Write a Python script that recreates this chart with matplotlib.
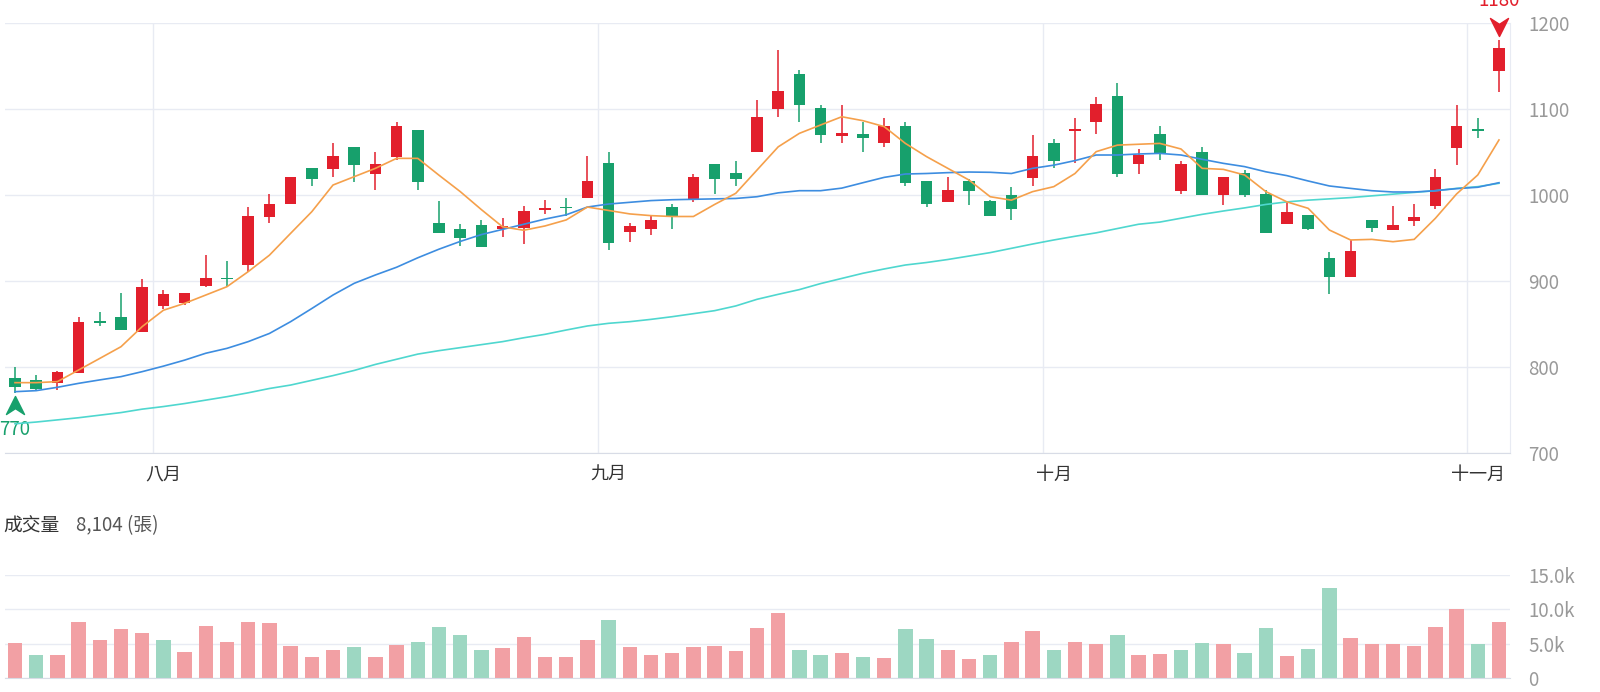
import numpy as np
import matplotlib
matplotlib.use('Agg')
import matplotlib.pyplot as plt
from matplotlib.path import Path
from matplotlib.transforms import offset_copy

plt.rcParams['font.family'] = ['Noto Sans CJK TC', 'DejaVu Sans']

# daily OHLC (price)
opens = [787.6, 785, 781, 793, 853.5, 858.5, 841, 871, 875, 894.6,
         904, 919, 975, 989, 1031, 1029.8, 1056, 1025, 1044.6, 1075.6,
         967.8, 961, 965, 961, 962, 982.6, 986.4, 997, 1036.8, 957,
         961, 985.6, 994, 1036, 1026, 1049.6, 1099.6, 1140.7, 1100.8, 1069,
         1070.5, 1060, 1080.6, 1016.7, 992, 1016.7, 993.4, 1000, 1019.4, 1060.9,
         1074.4, 1085.3, 1115, 1035.7, 1070.5, 1005, 1050.4, 1000, 1026, 1001,
         965.9, 976.7, 927, 904.3, 971, 959.3, 970, 987.2, 1055, 1076.4,
         1144.6]
highs = [800, 790.7, 795, 858.5, 864, 885.7, 902, 889.5, 886.4, 930,
         923, 986, 1000.8, 1020.5, 1031, 1060, 1056, 1050, 1085, 1075.6,
         993, 966, 971, 972.9, 987, 994, 996, 1045, 1050, 967.8,
         976.7, 990, 1025, 1036, 1040, 1110, 1169, 1145.3, 1104.6, 1104.6,
         1085.3, 1090, 1084.5, 1016.7, 1020.5, 1019, 994, 1009.7, 1069.8, 1064.7,
         1090, 1114, 1129.8, 1054, 1080.2, 1040, 1055.4, 1020.5, 1029, 1005.8,
         992, 976.7, 934, 947.7, 971, 987.2, 990, 1029.8, 1104.6, 1090,
         1180]
lows = [770, 772.5, 773, 792.6, 847.7, 843, 841, 868, 872, 893.4,
        893, 911, 967, 989, 1010.5, 1021, 1015.5, 1006, 1040.7, 1006,
        955.4, 940.7, 940, 950.8, 943, 978, 975.6, 997, 936, 945.7,
        953.5, 961, 992, 1000.8, 1010.5, 1049.6, 1091, 1085, 1060, 1060,
        1050.4, 1055.4, 1010.5, 985.7, 992, 988.4, 975.6, 971, 1010.8, 1031,
        1037, 1070.5, 1021.3, 1025, 1040.7, 1001, 1000, 988.4, 998, 955.4,
        965.9, 959.3, 884.9, 904.3, 957.4, 959.3, 964, 983.3, 1035.3, 1066,
        1120]
closes = [777, 774, 794.6, 852.7, 851.5, 843, 893.4, 885, 886.4, 903,
          902, 976, 990, 1020.5, 1019, 1045.7, 1035, 1036, 1080.6, 1015.5,
          955.4, 949.6, 940, 963.6, 981.8, 984.6, 984.5, 1016, 943.8, 964,
          971, 974, 1021, 1019, 1019, 1091, 1121, 1104.7, 1069.8, 1071.7,
          1066, 1080.6, 1014.3, 989, 1005.8, 1005, 975.6, 983.7, 1045.7, 1039.5,
          1076.4, 1105.4, 1024.4, 1046.5, 1048.4, 1036, 1000, 1020.5, 1000, 956.2,
          979.8, 960, 904.3, 935.3, 962, 965, 974, 1020.5, 1080.6, 1074.8,
          1170.5]

# moving averages
ma5 = [781.8, 781.8, 783, 796.5, 810, 823.6, 847, 866, 874, 883.7,
       893.4, 910.9, 930, 955.4, 980.6, 1011.6, 1021.3, 1031, 1042.6, 1042.6,
       1023, 1004, 983, 963, 959, 964, 971, 986, 982, 978,
       976, 975, 975, 989, 1002, 1029, 1056, 1071.7, 1081.4, 1091,
       1086.4, 1079.5, 1060, 1044.6, 1031, 1017.4, 998, 994, 1003.9, 1009.7,
       1025, 1050.4, 1058, 1059, 1060, 1053.5, 1031, 1029.8, 1023.3, 1004,
       992, 984.5, 959.3, 947.7, 948.4, 945.7, 948.4, 972.9, 1001.2, 1023.3,
       1064]
ma20 = [771.3, 772.5, 776.4, 781, 785, 788.8, 794.6, 801, 808, 816,
        821.7, 829.5, 839, 852.7, 868, 883.7, 897.3, 907, 916, 927,
        937, 946, 954, 960, 966, 972, 977, 986, 989.5, 991.5,
        993.5, 994.5, 995, 995.5, 996, 998, 1002.5, 1005, 1005, 1008,
        1014.3, 1020.5, 1024.4, 1025, 1026, 1026.7, 1026.4, 1025, 1031, 1034.7,
        1040, 1046.5, 1046.5, 1047.7, 1048.4, 1046.5, 1041.5, 1036.8, 1033, 1027,
        1022.5, 1016.3, 1010.5, 1007.7, 1005, 1003.5, 1003.5, 1005, 1007.4, 1009,
        1014.3]
ma60 = [734, 736, 738.5, 741, 744, 747, 751, 754, 757.5, 761.5,
        765.5, 770, 775, 779, 784.5, 790, 796, 803, 809, 815,
        819, 822.5, 826, 829.5, 834, 838, 843, 847.7, 850.8, 852.7,
        855.4, 858.5, 862, 865.5, 871, 878.7, 884.5, 890, 897, 903,
        909, 914, 918.6, 921.5, 925, 929, 933, 938, 943, 947.7,
        952, 956, 961, 966, 968.5, 973, 977.5, 981.4, 985, 989,
        992, 994, 995.5, 997, 999, 1001, 1003, 1005, 1007.7, 1009.7,
        1013.6]

# volume (張) and its colour flag (1 = red, 0 = green)
volume = [5100, 3400, 3400, 8100, 5600, 7100, 6500, 5500, 3800, 7600,
          5300, 8200, 8000, 4600, 3100, 4100, 4500, 3000, 4800, 5300,
          7500, 6300, 4100, 4400, 5900, 3100, 3100, 5600, 8400, 4500,
          3400, 3600, 4500, 4600, 3900, 7300, 9400, 4100, 3300, 3700,
          3100, 2900, 7200, 5700, 4100, 2700, 3400, 5300, 6800, 4100,
          5200, 4900, 6300, 3300, 3500, 4100, 5100, 4900, 3700, 7300,
          3200, 4200, 13100, 5800, 4900, 4900, 4600, 7400, 10100, 4900,
          8104]
vol_up = [1, 0, 1, 1, 1, 1, 1, 0, 1, 1,
          1, 1, 1, 1, 1, 1, 0, 1, 1, 0,
          0, 0, 0, 1, 1, 1, 1, 1, 0, 1,
          1, 1, 1, 1, 1, 1, 1, 0, 0, 1,
          0, 1, 0, 0, 1, 1, 0, 1, 1, 0,
          1, 1, 0, 1, 1, 0, 0, 1, 0, 0,
          1, 0, 0, 1, 1, 1, 1, 1, 1, 0,
          1]

month_labels = ['八月', '九月', '十月', '十一月']
month_start = [7, 28, 49, 69]
price_ticks = [700, 800, 900, 1000, 1100, 1200]
vol_ticks = [0, 5000, 10000, 15000]
vol_tick_labels = ['0', '5.0k', '10.0k', '15.0k']

UP = '#e21f2c'
DOWN = '#17a06c'
VOL_UP = '#f2a0a4'
VOL_DOWN = '#9dd7c2'
GRID = '#e8ebf3'
AXIS = '#d8dce6'
LABEL = '#999999'

n = len(closes)
x = np.arange(n)
o = np.array(opens)
c = np.array(closes)
up = c >= o
colors = np.where(up, UP, DOWN)

W, H = 1600, 692
fig = plt.figure(figsize=(16, 6.92), dpi=100)
xlim = (-0.472, 70.52)

# ---- price panel
ax = fig.add_axes([5 / W, 1 - 453 / H, 1505 / W, 430 / H])
ax.set_xlim(*xlim)
ax.set_ylim(700, 1200)
for m in month_start:
    ax.axvline(m - 0.5, color=GRID, lw=1, zorder=0)
ax.set_yticks(price_ticks)
ax.grid(axis='y', color=GRID, lw=1, zorder=0)
ax.set_axisbelow(True)

ax.vlines(x, lows, highs, colors=colors, lw=1.1, zorder=2)
body = np.maximum(np.abs(c - o), 1.6)
ax.bar(x, body, bottom=np.minimum(o, c), width=0.55, color=colors, zorder=3)

ax.plot(x, ma60, color='#4fd7cf', lw=1.2, zorder=4)
ax.plot(x, ma20, color='#3d8de0', lw=1.2, zorder=4)
ax.plot(x, ma5, color='#f5a04b', lw=1.2, zorder=4)

for s in ['top', 'left']:
    ax.spines[s].set_visible(False)
ax.spines['bottom'].set_color(AXIS)
ax.spines['right'].set_color(GRID)
ax.yaxis.tick_right()
ax.tick_params(axis='y', length=0, pad=13, labelsize=13.5, labelcolor=LABEL)
ax.set_xticks(month_start)
ax.set_xticklabels(month_labels)
ax.tick_params(axis='x', length=0, pad=9, labelsize=13, labelcolor='#333333')

# max / min markers
arrow_down = Path([(0, -1), (1, 1), (0, 0.35), (-1, 1), (0, -1)],
                  [Path.MOVETO, Path.LINETO, Path.LINETO, Path.LINETO, Path.CLOSEPOLY])
arrow_up = Path([(0, 1), (1, -1), (0, -0.35), (-1, -1), (0, 1)],
                [Path.MOVETO, Path.LINETO, Path.LINETO, Path.LINETO, Path.CLOSEPOLY])
hi_i = int(np.argmax(highs))
lo_i = int(np.argmin(lows))
ax.plot(hi_i, highs[hi_i], marker=arrow_down, ms=13, color=UP, clip_on=False,
        transform=offset_copy(ax.transData, fig=fig, x=0, y=13, units='dots'), zorder=5)
ax.annotate(f'{highs[hi_i]:.0f}', xy=(hi_i, highs[hi_i]), xytext=(0, 40),
            textcoords='offset pixels', ha='center', va='center', color=UP,
            fontsize=13.5, annotation_clip=False)
ax.plot(lo_i, lows[lo_i], marker=arrow_up, ms=13, color=DOWN, clip_on=False,
        transform=offset_copy(ax.transData, fig=fig, x=0, y=-12, units='dots'), zorder=5)
ax.annotate(f'{lows[lo_i]:.0f}', xy=(lo_i, lows[lo_i]), xytext=(0, -37),
            textcoords='offset pixels', ha='center', va='center', color=DOWN,
            fontsize=13.5, annotation_clip=False)

# ---- volume panel
ax2 = fig.add_axes([5 / W, 1 - 678 / H, 1505 / W, 103 / H])
ax2.set_xlim(*xlim)
ax2.set_ylim(0, 15000)
ax2.set_yticks(vol_ticks)
ax2.set_yticklabels(vol_tick_labels)
ax2.grid(axis='y', color=GRID, lw=1, zorder=0)
ax2.set_axisbelow(True)
ax2.bar(x, volume, width=0.68, color=[VOL_UP if u else VOL_DOWN for u in vol_up], zorder=2)
for s in ['top', 'left', 'right']:
    ax2.spines[s].set_visible(False)
ax2.spines['bottom'].set_color(AXIS)
ax2.yaxis.tick_right()
ax2.tick_params(axis='y', length=0, pad=13, labelsize=13.5, labelcolor=LABEL)
ax2.set_xticks([])

fig.text(3 / W, 1 - 526 / H, '成交量', fontsize=13.5, color='#333333', va='center')
fig.text(76 / W, 1 - 526 / H, f'{volume[-1]:,} (張)', fontsize=13.5, color='#555555', va='center')

fig.savefig('out.png', dpi=100)
